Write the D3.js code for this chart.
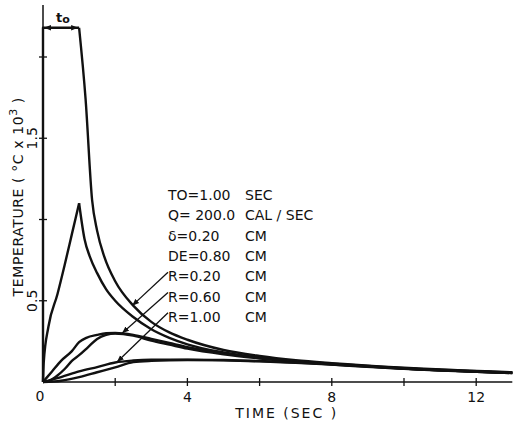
<html>
<head>
<meta charset="utf-8">
<script src="https://d3js.org/d3.v7.min.js"></script>
<style>
  body { margin: 0; background: #fff; }
  text { font-family: "DejaVu Sans", sans-serif; fill: #111; }
  .curve { fill: none; stroke: #111; stroke-width: 2.4; stroke-linejoin: round; }
  .axis-line { stroke: #111; stroke-width: 1.5; }
  .tick { stroke: #111; stroke-width: 1.3; }
  .pointer { stroke: #111; stroke-width: 1.3; }
</style>
</head>
<body>
<script>

// time (sec), temperature (C x 10^3)
var riseA = [[0, 0], [0, 2.18], [1, 2.18]];
var fallA = [[1, 2.18], [1.18, 1.74], [1.36, 1.12], [1.5, 0.93], [1.7, 0.77], [2.0, 0.62], [2.5, 0.47],
             [3, 0.37], [3.5, 0.305], [4, 0.26], [5, 0.197], [6, 0.16], [7, 0.134], [8, 0.116], [10, 0.088], [13, 0.06]];
var riseB = [[0, 0], [0.02, 0.12], [0.15, 0.34], [0.4, 0.54], [0.6, 0.72], [0.8, 0.91], [1, 1.1]];
var fallB = [[1, 1.1], [1.15, 0.88], [1.3, 0.77], [1.5, 0.67], [1.75, 0.57], [2.0, 0.5], [2.5, 0.4],
             [3, 0.325], [3.5, 0.272], [4, 0.232], [5, 0.182], [6, 0.15], [7, 0.128], [8, 0.112], [10, 0.085], [13, 0.058]];
var curveC = [[0, 0], [0.25, 0.065], [0.5, 0.13], [0.8, 0.19], [1, 0.245], [1.2, 0.272], [1.5, 0.29], [1.75, 0.3],
              [2, 0.302], [2.5, 0.29], [3, 0.265], [3.5, 0.24], [4, 0.215], [5, 0.178], [6, 0.15], [7, 0.128],
              [8, 0.11], [10, 0.083], [13, 0.056]];
var curveD = [[0, 0], [0.2, 0.01], [0.4, 0.04], [0.6, 0.08], [0.8, 0.13], [1, 0.165], [1.25, 0.215], [1.5, 0.265],
              [1.75, 0.29], [2, 0.298], [2.5, 0.285], [3, 0.255], [3.5, 0.23], [4, 0.205], [5, 0.17], [6, 0.145],
              [7, 0.125], [8, 0.107], [10, 0.081], [13, 0.055]];
var curveE = [[0, 0], [0.5, 0.03], [1, 0.065], [1.5, 0.092], [2, 0.12], [2.5, 0.132], [3, 0.137], [4, 0.138],
              [5, 0.135], [6, 0.129], [7, 0.12], [8, 0.11], [10, 0.083], [13, 0.056]];
var curveF = [[0, 0], [0.5, 0.008], [1, 0.03], [1.5, 0.06], [2, 0.09], [2.5, 0.122], [3, 0.13], [4, 0.135],
              [5, 0.133], [6, 0.127], [7, 0.118], [8, 0.108], [10, 0.082], [13, 0.055]];

var xTicks = [2, 4, 6, 8, 10, 12];
var xTickLabels = ["4", "8", "12"];
var yTicks = [0.5, 1.0, 1.5, 2.0];
var yTickLabels = ["0.5", "1.5"];

var params = [["TO=1.00", "SEC"], ["Q= 200.0", "CAL / SEC"], ["\u03b4=0.20", "CM"], ["DE=0.80", "CM"],
              ["R=0.20", "CM"], ["R=0.60", "CM"], ["R=1.00", "CM"]];
// arrow tips (time, temperature) for the three R labels
var radiusTips = [[2.47, 0.47], [2.19, 0.30], [2.05, 0.123]];
var pulseTime = 1.0;

var width = 515,
    height = 423;

var svg = d3.select("body").append("svg")
    .attr("width", width)
    .attr("height", height);

var x = d3.scaleLinear().domain([0, 13]).range([43, 512.3]);
var y = d3.scaleLinear().domain([0, 2.32]).range([382, 5]);

var defs = svg.append("defs");
defs.append("marker")
    .attr("id", "head")
    .attr("viewBox", "0 0 10 10")
    .attr("refX", 10).attr("refY", 5)
    .attr("markerWidth", 7).attr("markerHeight", 7)
    .attr("markerUnits", "userSpaceOnUse")
    .attr("orient", "auto-start-reverse")
    .append("path")
    .attr("d", "M0,1 L10,5 L0,9 Z")
    .attr("fill", "#111");

// axes
svg.append("line").attr("class", "axis-line")
    .attr("x1", x(0)).attr("x2", x(13)).attr("y1", y(0)).attr("y2", y(0));
svg.append("line").attr("class", "axis-line")
    .attr("x1", x(0)).attr("x2", x(0)).attr("y1", y(0)).attr("y2", y(2.32));

svg.selectAll(".xtick")
    .data(xTicks)
    .enter().append("line")
    .attr("class", "tick")
    .attr("x1", function(d) { return x(d); }).attr("x2", function(d) { return x(d); })
    .attr("y1", y(0) - 4).attr("y2", y(0) + 4);

svg.selectAll(".ytick")
    .data(yTicks)
    .enter().append("line")
    .attr("class", "tick")
    .attr("x1", x(0) - 4).attr("x2", x(0) + 4)
    .attr("y1", function(d) { return y(d); }).attr("y2", function(d) { return y(d); });

svg.selectAll(".xlab")
    .data(xTickLabels)
    .enter().append("text")
    .attr("x", function(d) { return x(+d); })
    .attr("y", y(0) + 20)
    .attr("text-anchor", "middle")
    .style("font-size", "14px")
    .text(function(d) { return d; });

svg.append("text")
    .attr("x", x(0) - 3)
    .attr("y", y(0) + 19)
    .attr("text-anchor", "middle")
    .style("font-size", "14px")
    .text("0");

svg.selectAll(".ylab")
    .data(yTickLabels)
    .enter().append("text")
    .attr("transform", function(d) { return "translate(" + (x(0) - 6) + "," + y(+d) + ") rotate(-90)"; })
    .attr("text-anchor", "middle")
    .style("font-size", "14px")
    .text(function(d) { return d; });

svg.append("text")
    .attr("x", x(6.75))
    .attr("y", 418)
    .attr("text-anchor", "middle")
    .style("font-size", "14px")
    .style("letter-spacing", "2px")
    .text("TIME (SEC )");

var ylabel = svg.append("text")
    .attr("transform", "translate(23," + y(1.14) + ") rotate(-90)")
    .attr("text-anchor", "middle")
    .style("font-size", "14px")
    .style("letter-spacing", "0.6px");
ylabel.append("tspan").text("TEMPERATURE ( \u00b0C x 10");
ylabel.append("tspan").attr("dy", -6).style("font-size", "11px").text("3");
ylabel.append("tspan").attr("dy", 6).text(" )");

// curves
var smooth = d3.line()
    .x(function(d) { return x(d[0]); })
    .y(function(d) { return y(d[1]); })
    .curve(d3.curveMonotoneX);
var straight = d3.line()
    .x(function(d) { return x(d[0]); })
    .y(function(d) { return y(d[1]); });

svg.append("path").attr("class", "curve").attr("d", straight(riseA));
[fallA, riseB, fallB, curveC, curveD, curveE, curveF].forEach(function(c) {
    svg.append("path").attr("class", "curve").attr("d", smooth(c));
});

// t0 marker
svg.append("line").attr("class", "pointer")
    .attr("x1", x(0) + 1).attr("x2", x(pulseTime) - 1)
    .attr("y1", y(2.18)).attr("y2", y(2.18))
    .attr("marker-start", "url(#head)")
    .attr("marker-end", "url(#head)");
var t0 = svg.append("text")
    .attr("x", x(pulseTime / 2) - 5)
    .attr("y", y(2.18) - 6)
    .style("font-size", "13px")
    .style("font-weight", "bold");
t0.append("tspan").text("t");
t0.append("tspan").attr("dy", 1).style("font-size", "11px").text("o");

// parameter block
var blockX = 168,
    unitX = 245,
    blockTop = 200,
    lineGap = 20.3;

var rows = svg.selectAll(".param")
    .data(params)
    .enter().append("g")
    .attr("transform", function(d, i) { return "translate(0," + (blockTop + i * lineGap) + ")"; });
rows.append("text")
    .attr("x", blockX)
    .style("font-size", "14px")
    .text(function(d) { return d[0]; });
rows.append("text")
    .attr("x", unitX)
    .style("font-size", "14px")
    .text(function(d) { return d[1]; });

svg.selectAll(".rarrow")
    .data(radiusTips)
    .enter().append("line")
    .attr("class", "pointer")
    .attr("x1", blockX)
    .attr("y1", function(d, i) { return blockTop + (4 + i) * lineGap - 9; })
    .attr("x2", function(d) { return x(d[0]); })
    .attr("y2", function(d) { return y(d[1]); })
    .attr("marker-end", "url(#head)");

</script>
</body>
</html>
